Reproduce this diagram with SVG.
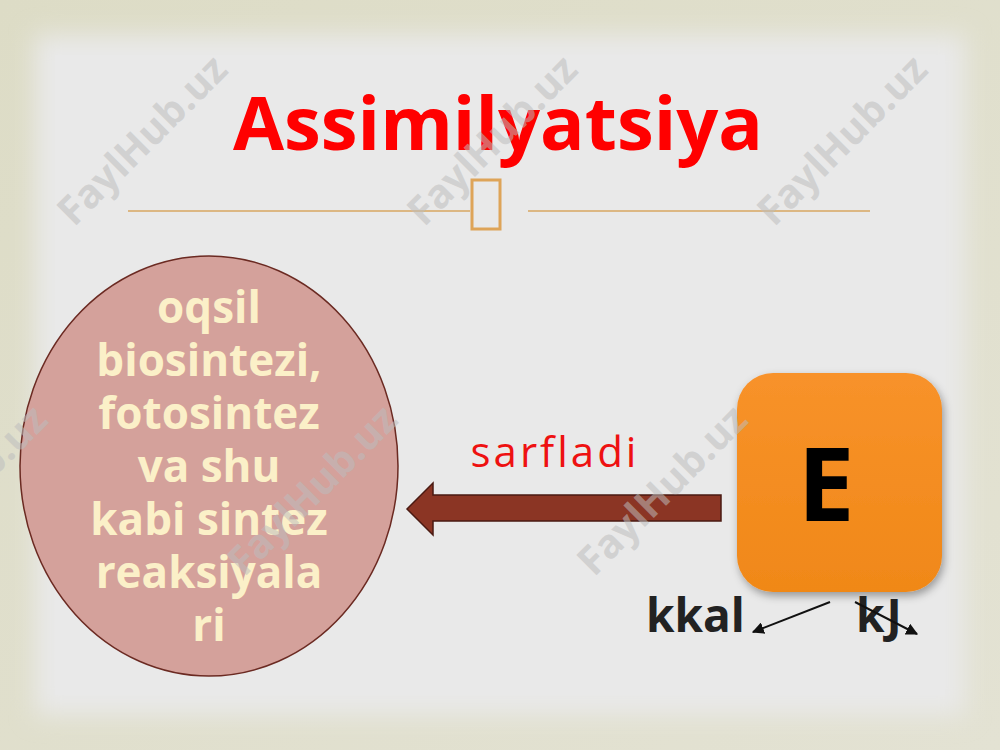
<svg xmlns="http://www.w3.org/2000/svg" width="1000" height="750" viewBox="0 0 1000 750">
<defs>
<linearGradient id="frame" x1="0" y1="0" x2="1" y2="1">
<stop offset="0" stop-color="#dddcc6"/>
<stop offset="1" stop-color="#e3e2d3"/>
</linearGradient>
<linearGradient id="orange" x1="0" y1="0" x2="0" y2="1">
<stop offset="0" stop-color="#f8922a"/>
<stop offset="1" stop-color="#f08818"/>
</linearGradient>
<filter id="blur" x="-20%" y="-20%" width="140%" height="140%"><feGaussianBlur stdDeviation="12"/></filter>
<filter id="shadow" x="-20%" y="-20%" width="140%" height="140%"><feDropShadow dx="2" dy="4" stdDeviation="4" flood-color="#000" flood-opacity="0.35"/></filter>
<marker id="ah" viewBox="0 0 10 10" refX="9" refY="5" markerWidth="6" markerHeight="6" orient="auto"><path d="M0,0 L10,5 L0,10 z" fill="#111"/></marker>
<style>
.wm{font-family:"Open Sans","Noto Sans",sans-serif;font-weight:bold;font-size:40px;fill:#bdbdbd;fill-opacity:0.55;text-anchor:middle}
.el{font-family:"Open Sans","Noto Sans",sans-serif;font-weight:bold;font-size:44px;fill:#fbf0c8;text-anchor:middle}
.unit{font-family:"Open Sans","Noto Sans",sans-serif;font-weight:bold;font-size:46px;fill:#222}
</style>
</defs>
<rect width="1000" height="750" fill="url(#frame)"/>
<rect x="35" y="35" width="930" height="680" fill="#e9e9e9" filter="url(#blur)"/>
<rect x="55" y="55" width="890" height="640" fill="#e9e9e9"/>

<g id="title">
<text x="498" y="150" font-family="'Open Sans','Noto Sans',sans-serif" font-weight="bold" font-size="74" fill="#ff0000" text-anchor="middle">Assimilyatsiya</text>
<line x1="128" y1="211" x2="470" y2="211" stroke="#dcb783" stroke-width="2"/>
<line x1="528" y1="211" x2="870" y2="211" stroke="#dcb783" stroke-width="2"/>
<rect x="472" y="180" width="28" height="49" fill="none" stroke="#dea458" stroke-width="3"/>
</g>

<g id="ellipse-node">
<ellipse cx="209" cy="466" rx="189" ry="210" fill="#d4a19b" stroke="#6b2a22" stroke-width="1.5"/>
<text class="el" x="209" y="323">oqsil</text>
<text class="el" x="209" y="376">biosintezi,</text>
<text class="el" x="209" y="429">fotosintez</text>
<text class="el" x="209" y="482">va shu</text>
<text class="el" x="209" y="535">kabi sintez</text>
<text class="el" x="209" y="588">reaksiyala</text>
<text class="el" x="209" y="641">ri</text>
</g>

<g id="E-node">
<rect x="737" y="373" width="205" height="219" rx="36" fill="url(#orange)" filter="url(#shadow)"/>
<text x="826" y="521" font-family="'Open Sans','Noto Sans',sans-serif" font-weight="bold" font-size="102" fill="#000" text-anchor="middle">E</text>
</g>

<g id="units">
<text class="unit" x="646" y="632">kkal</text>
<text class="unit" x="856" y="632" letter-spacing="2">kJ</text>
</g>

<g id="connectors">
<path d="M721,495 L433,495 L433,483 L407,509 L433,535 L433,521 L721,521 Z" fill="#8b3524" stroke="#4a1a12" stroke-width="1.5"/>
<text x="555" y="467" font-family="'Open Sans','Noto Sans',sans-serif" font-size="42" letter-spacing="3" fill="#ee1111" text-anchor="middle">sarfladi</text>
<line x1="830" y1="602" x2="753" y2="632" stroke="#111" stroke-width="2" marker-end="url(#ah)"/>
<line x1="855" y1="602" x2="917" y2="634" stroke="#111" stroke-width="2" marker-end="url(#ah)"/>
</g>

<g id="watermarks">
<text class="wm" transform="translate(142,140) rotate(-45)" dy="14">FaylHub.uz</text>
<text class="wm" transform="translate(492,140) rotate(-45)" dy="14">FaylHub.uz</text>
<text class="wm" transform="translate(842,140) rotate(-45)" dy="14">FaylHub.uz</text>
<text class="wm" transform="translate(-38,490) rotate(-45)" dy="14">FaylHub.uz</text>
<text class="wm" transform="translate(312,490) rotate(-45)" dy="14">FaylHub.uz</text>
<text class="wm" transform="translate(662,490) rotate(-45)" dy="14">FaylHub.uz</text>
</g>
</svg>
